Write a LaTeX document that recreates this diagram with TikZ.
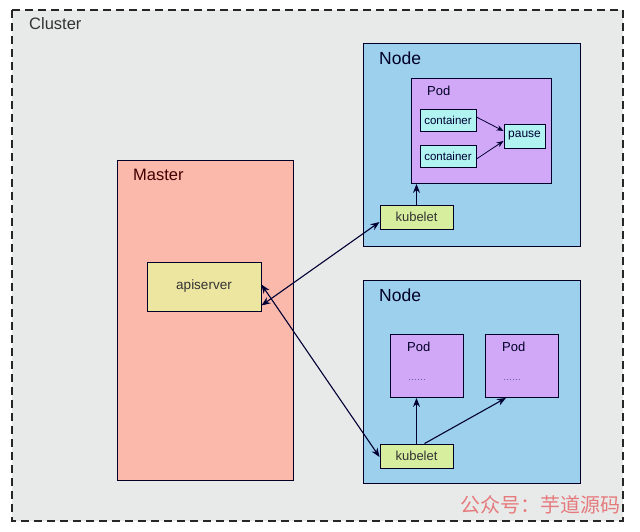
\documentclass[tikz,border=0pt]{standalone}
\usepackage{fontspec}
\setmainfont{Liberation Sans}
\newfontfamily\cjk{Noto Sans CJK SC}
\usetikzlibrary{arrows.meta}
\begin{document}
\begin{tikzpicture}[x=1pt,y=-1pt,
  box/.style={draw=black!75!blue!60!black, line width=0.9pt, anchor=north west, inner sep=0pt},
  lbl/.style={anchor=west, inner sep=0pt, text=black!85!blue},
  conn/.style={draw=black!80!blue, line width=1.1pt, -{Stealth[length=9pt,width=7pt]}},
  bconn/.style={conn, {Stealth[length=9pt,width=7pt]}-{Stealth[length=9pt,width=7pt]}}]
\definecolor{clusterbg}{HTML}{E8EAEA}
\definecolor{masterbg}{HTML}{FBB9AC}
\definecolor{apibg}{HTML}{EDE6A1}
\definecolor{nodebg}{HTML}{9DD0EC}
\definecolor{podbg}{HTML}{D1A8F7}
\definecolor{ctrbg}{HTML}{B0F3F0}
\definecolor{kubebg}{HTML}{D6EE9E}
\definecolor{markred}{HTML}{E57A7C}
\useasboundingbox (0,0) rectangle (640,531);
\fill[white] (0,0) rectangle (640,531);
% cluster frame
\draw[fill=clusterbg, dashed, dash pattern=on 8pt off 5pt, line width=1.1pt, draw=black!85] (12,10) rectangle (623,521);
\node[lbl, text=black!80, font=\fontsize{16.5}{18}\selectfont] (clusterlbl) at (29,24) {Cluster};
% master
\node[box, fill=masterbg, minimum width=176pt, minimum height=320pt] (master) at (117,160) {};
\node[lbl, text=black!75!red, font=\fontsize{16.5}{18}\selectfont] (masterlbl) at (133,175) {Master};
\node[box, fill=apibg, minimum width=114pt, minimum height=49pt, anchor=center] (api) at (204,286.5) {};
\node[font=\fontsize{13.5}{15}\selectfont, text=black!80] at (api.center) {apiserver};
% first node
\node[box, fill=nodebg, minimum width=217pt, minimum height=203pt] (node1) at (363,43) {};
\node[lbl, font=\fontsize{17.5}{19}\selectfont] (node1lbl) at (379,58) {Node};
\node[box, fill=podbg, minimum width=140pt, minimum height=105pt] (pod1) at (411,78) {};
\node[lbl, font=\fontsize{13}{15}\selectfont] (pod1lbl) at (427,91) {Pod};
\node[box, fill=ctrbg, minimum width=56pt, minimum height=22pt, font=\fontsize{11.5}{13}\selectfont, anchor=center, text=black!80!blue] (c1) at (448,120) {container};
\node[box, fill=ctrbg, minimum width=56pt, minimum height=22pt, font=\fontsize{11.5}{13}\selectfont, anchor=center, text=black!80!blue] (c2) at (448,156) {container};
\node[box, fill=ctrbg, minimum width=41pt, minimum height=24pt, font=\fontsize{12}{14}\selectfont, anchor=center, text=black!80!blue] (pause) at (524.5,136) {pause};
\node[box, fill=kubebg, minimum width=73pt, minimum height=24pt, font=\fontsize{13}{15}\selectfont, anchor=center, text=black!80] (kube1) at (416.5,217) {kubelet};
% second node
\node[box, fill=nodebg, minimum width=217pt, minimum height=203pt] (node2) at (363,280) {};
\node[lbl, font=\fontsize{17.5}{19}\selectfont] (node2lbl) at (379,295) {Node};
\node[box, fill=podbg, minimum width=73pt, minimum height=63pt] (poda) at (390,334) {};
\node[lbl, font=\fontsize{13}{15}\selectfont] (podalbl) at (407,347) {Pod};
\node[lbl, font=\fontsize{9}{11}\selectfont, text=black!60!blue!70] (podadots) at (408,380) {……};
\node[box, fill=podbg, minimum width=73pt, minimum height=63pt] (podb) at (485,334) {};
\node[lbl, font=\fontsize{13}{15}\selectfont] (podblbl) at (502,347) {Pod};
\node[lbl, font=\fontsize{9}{11}\selectfont, text=black!60!blue!70] (podbdots) at (503,380) {……};
\node[box, fill=kubebg, minimum width=73pt, minimum height=24pt, font=\fontsize{13}{15}\selectfont, anchor=center, text=black!80] (kube2) at (416.5,456) {kubelet};
% connectors
\draw[bconn] ([yshift=-19pt]api.east) -- ([yshift=-5pt]kube1.west);
\draw[bconn] ([yshift=2pt]api.east) -- ([yshift=-1pt]kube2.west);
\draw[conn] (kube1.north) -- (kube1.north |- pod1.south);
\draw[conn, line width=0.8pt, -{Stealth[length=7pt,width=5.5pt]}] ([yshift=3pt]c1.east) -- ([yshift=5pt]pause.west);
\draw[conn, line width=0.8pt, -{Stealth[length=7pt,width=5.5pt]}] ([yshift=-3pt]c2.east) -- ([yshift=-5pt]pause.west);
\draw[conn] (kube2.north) -- (kube2.north |- poda.south);
\draw[conn] ([xshift=8pt]kube2.north) -- ([xshift=21pt]podb.south west);
% caption mark
\node[anchor=west, inner sep=0pt, text=markred, font=\cjk\fontsize{20}{22}\selectfont] (mark) at (460,505) {公众号：芋道源码};
\end{tikzpicture}
\end{document}
